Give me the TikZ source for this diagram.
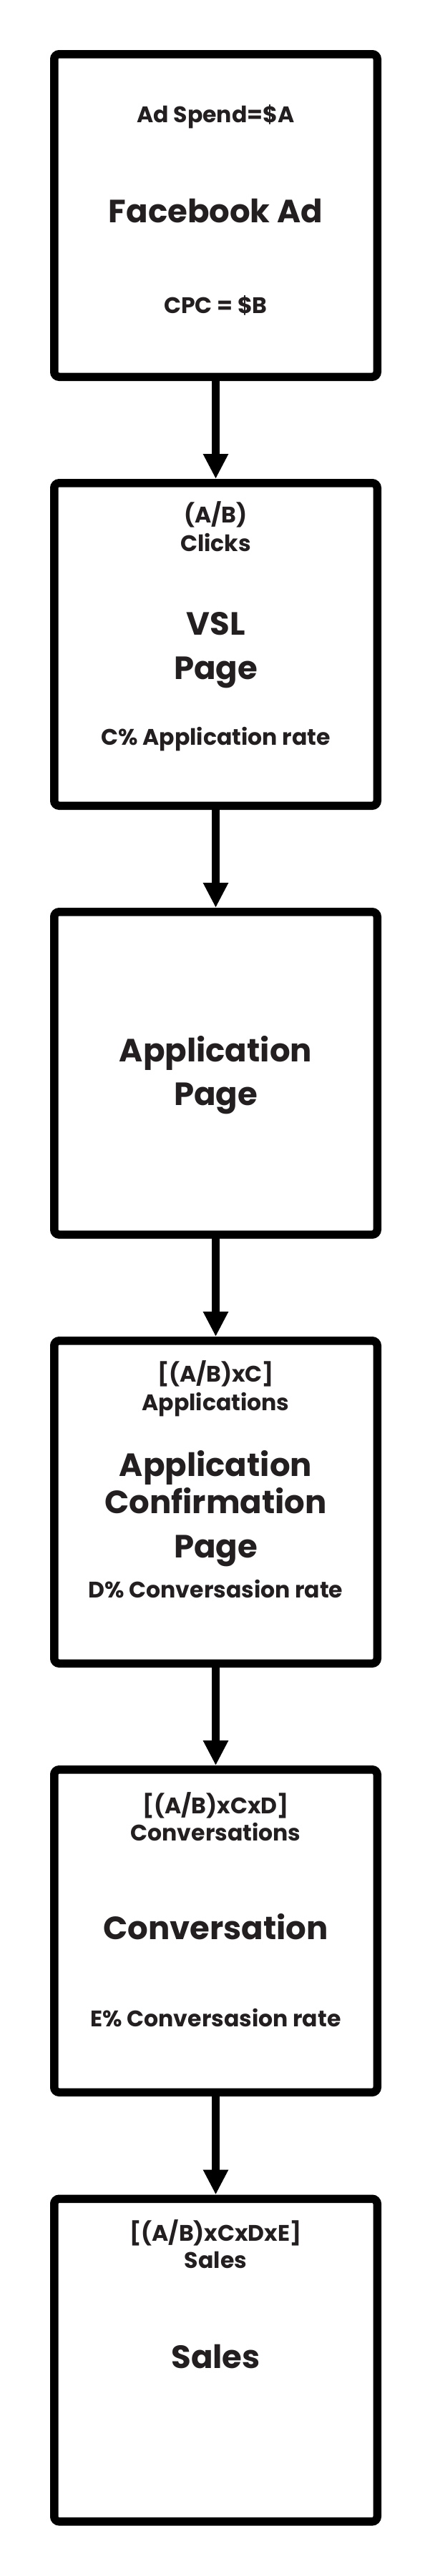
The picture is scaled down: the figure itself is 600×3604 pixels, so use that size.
\documentclass[tikz,border=0pt]{standalone}
\usepackage{fontspec}
\setmainfont{Poppins}
\usepackage{xcolor}
\usetikzlibrary{arrows.meta}
\definecolor{ink}{HTML}{231F20}

\begin{document}
\begin{tikzpicture}[x=1pt,y=1pt,
  stage/.style={draw=black,line width=11.5pt,rounded corners=7pt,
    minimum width=451.5pt,minimum height=451.5pt,inner sep=0pt},
  small/.style={anchor=base,text=ink,inner sep=0pt,
    font=\bfseries\fontsize{31.5}{38}\selectfont},
  big/.style={anchor=base,text=ink,inner sep=0pt,
    font=\bfseries\fontsize{45}{54}\selectfont},
  flow/.style={line width=11.5pt,-{Triangle[width=33pt,length=35pt]}}]
\useasboundingbox (0,0) rectangle (600,-3604);
% funnel stages
\node[stage] (ad) at (301.5,-301.5) {};
\node[stage] (vsl) at (301.5,-901.5) {};
\node[stage] (app) at (301.5,-1501.5) {};
\node[stage] (conf) at (301.5,-2101.5) {};
\node[stage] (conv) at (301.5,-2701.5) {};
\node[stage] (sales) at (301.5,-3302) {};
% connectors
\draw[flow] (ad) -- (vsl);
\draw[flow] (vsl) -- (app);
\draw[flow] (app) -- (conf);
\draw[flow] (conf) -- (conv);
\draw[flow] (conv) -- (sales);
% texts
\node[small] (adSpend) at (301.5,-171) {Ad Spend=\$A};
\node[big] (adName) at (301.5,-311) {Facebook Ad};
\node[small] (adCpc) at (301.5,-438) {CPC = \$B};
\node[small] (vslCount) at (301.5,-731) {(A/B)};
\node[small] (vslUnit) at (301.5,-771) {Clicks};
\node[big] (vslName) at (301.5,-888) {VSL};
\node[big] (vslPage) at (301.5,-950) {Page};
\node[small] (vslRate) at (301.5,-1042) {C\% Application rate};
\node[big] (appName) at (301.5,-1485) {Application};
\node[big] (appPage) at (301.5,-1546) {Page};
\node[small] (confCount) at (301.5,-1933) {[(A/B)xC]};
\node[small] (confUnit) at (301.5,-1973) {Applications};
\node[big] (confName) at (301.5,-2065) {Application};
\node[big] (confName2) at (301.5,-2117) {Confirmation};
\node[big] (confPage) at (301.5,-2179) {Page};
\node[small] (confRate) at (301.5,-2235) {D\% Conversasion rate};
\node[small] (convCount) at (301.5,-2537) {[(A/B)xCxD]};
\node[small] (convUnit) at (301.5,-2575) {Conversations};
\node[big] (convName) at (301.5,-2713) {Conversation};
\node[small] (convRate) at (301.5,-2835) {E\% Conversasion rate};
\node[small] (salesCount) at (301.5,-3135) {[(A/B)xCxDxE]};
\node[small] (salesUnit) at (301.5,-3173) {Sales};
\node[big] (salesName) at (301.5,-3313) {Sales};
\end{tikzpicture}
\end{document}
